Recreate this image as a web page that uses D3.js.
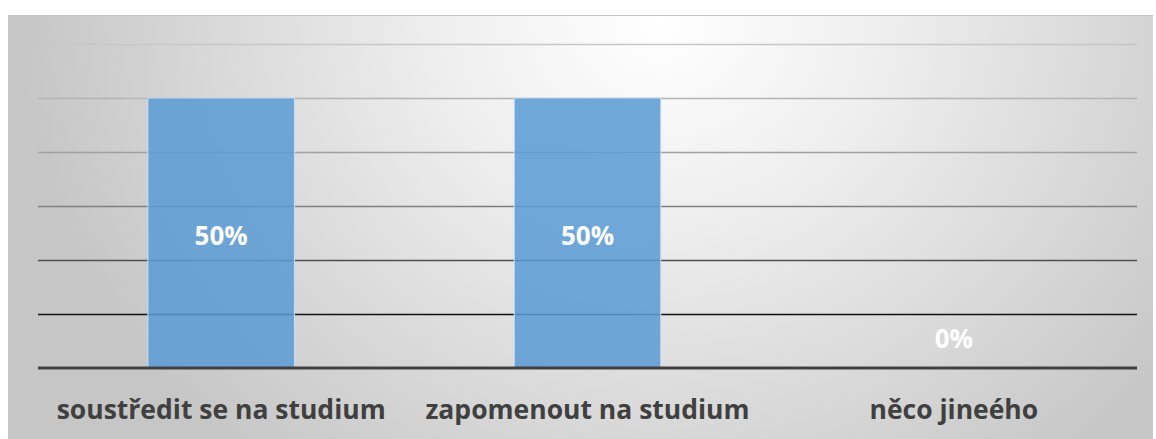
<!DOCTYPE html>
<html><head><meta charset="utf-8">
<script src="https://cdn.jsdelivr.net/npm/d3@7"></script>
<style>html,body{margin:0;padding:0;background:#fff;}svg{display:block;}</style>
</head><body>
<svg id="c" width="1156" height="439"></svg>
<script>
const categories = ["soustředit se na studium", "zapomenout na studium", "něco jineého"];
const values = [50, 50, 0];
const valueLabels = ["50%", "50%", "0%"];
const gridTicks = [0, 10, 20, 30, 40, 50, 60];

const svg = d3.select("#c");
const W = 1156, H = 439;
const defs = svg.append("defs");
const rg = defs.append("radialGradient").attr("id","bg")
  .attr("gradientUnits","userSpaceOnUse").attr("cx",660).attr("cy",20).attr("r",640)
  .attr("gradientTransform","translate(660,20) scale(1,0.9) translate(-660,-20)");
rg.append("stop").attr("offset","0").attr("stop-color","#ffffff");
rg.append("stop").attr("offset","0.35").attr("stop-color","#eeeeee");
rg.append("stop").attr("offset","1").attr("stop-color","#c6c6c6");

svg.append("rect").attr("x",8).attr("y",15).attr("width",1145).attr("height",H-15)
  .attr("fill","url(#bg)");
svg.append("line").attr("x1",8).attr("x2",1153).attr("y1",15.5).attr("y2",15.5)
  .attr("stroke","#c4c4c4").attr("stroke-width",1);

const left = 38, right = 1137;
const x = d3.scaleBand().domain(categories).range([left,right]).paddingInner(0.6).paddingOuter(0.3);
const y = d3.scaleLinear().domain([0,60]).range([368,44]);

const gridColor = d3.scaleLinear().domain([10,20,30,40,50,60])
  .range(["#111111","#505050","#808080","#a0a0a0","#b4b4b4","#c8c8c8"]);

svg.append("g").selectAll("line").data(gridTicks.filter(t=>t>0)).join("line")
  .attr("x1",left).attr("x2",right)
  .attr("y1",d=>Math.round(y(d))+0.5).attr("y2",d=>Math.round(y(d))+0.5)
  .attr("stroke",d=>gridColor(d)).attr("stroke-width",1.6);

svg.append("g").selectAll("rect").data(values).join("rect")
  .attr("x",(d,i)=>x(categories[i]))
  .attr("width",x.bandwidth())
  .attr("y",d=>y(d))
  .attr("height",d=>y(0)-y(d))
  .attr("fill","#5b9bd5").attr("fill-opacity",0.86)
  .attr("stroke","#c9def2").attr("stroke-width",1)
  .style("display",d=>d>0?null:"none");

svg.append("line").attr("x1",left).attr("x2",right).attr("y1",y(0)).attr("y2",y(0))
  .attr("stroke","#404040").attr("stroke-width",3);

svg.append("g").selectAll("text").data(values).join("text")
  .attr("x",(d,i)=>x(categories[i])+x.bandwidth()/2)
  .attr("y",d=>d>0?(y(d)+y(0))/2+12:y(0)-20)
  .attr("text-anchor","middle")
  .attr("font-family","'Open Sans', sans-serif").attr("font-weight","bold")
  .attr("font-size",26).attr("fill","#ffffff")
  .text((d,i)=>valueLabels[i]);

svg.append("g").selectAll("text").data(categories).join("text")
  .attr("x",d=>x(d)+x.bandwidth()/2)
  .attr("y",419)
  .attr("text-anchor","middle")
  .attr("font-family","'Open Sans', sans-serif").attr("font-weight","bold")
  .attr("font-size",26.5).attr("fill","#404040")
  .text(d=>d);
</script>
</body></html>
